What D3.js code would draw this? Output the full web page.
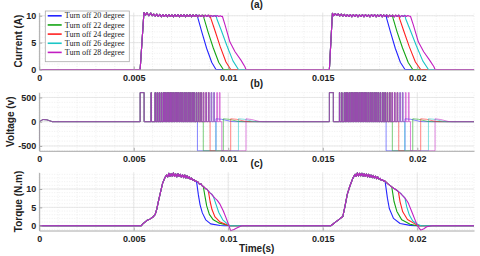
<!DOCTYPE html>
<html>
<head>
<meta charset="utf-8">
<script src="https://cdn.jsdelivr.net/npm/d3@7/dist/d3.min.js"></script>
<style>
  body { margin: 0; background: #fff; }
  svg { display: block; font-family: "Liberation Sans", Arial, sans-serif; }
</style>
</head>
<body>
<svg id="chart" width="480" height="256"></svg>
<script>
// ---------------- data ----------------
const seriesNames = ["Turn off 20 degree", "Turn off 22 degree", "Turn off 24 degree",
                     "Turn off 26 degree", "Turn off 28 degree"];
const xTicks = [0, 0.005, 0.01, 0.015, 0.02];
const xTickLabels = ["0", "0.005", "0.01", "0.015", "0.02"];

// current (A): common flat top of each stroke, then one tail per turn-off angle
const curTop1 = [[0.00534,0],[0.00554,10.6],[0.00562,10.1],[0.0057,10.55],[0.0058,10.0],[0.0059,10.5],
  [0.00598,10.0],[0.00606,10.3],[0.00614,9.9],[0.00622,10.3],[0.0063,9.85],[0.00638,10.25],[0.00646,9.8],
  [0.00654,10.2],[0.00662,9.85],[0.0067,10.2],[0.00678,9.8],[0.00686,10.2],[0.00694,9.85],[0.00702,10.15],
  [0.0071,9.8],[0.00718,10.2],[0.00726,9.85],[0.00734,10.2],[0.00742,9.8],[0.0075,10.15],[0.00758,9.85],
  [0.00766,10.2],[0.00774,9.8],[0.00782,10.15],[0.0079,9.85],[0.00798,10.2],[0.00806,9.8],[0.00814,10.15],
  [0.00822,9.85],[0.0083,10.15],[0.00838,9.8],[0.00846,10.1],[0.00854,9.85],[0.00862,10.1],[0.0087,9.8],
  [0.00878,10.1],[0.00886,9.85],[0.00894,10.1],[0.00902,9.8],[0.0091,10.05],[0.00918,9.85],[0.00926,10.05],
  [0.00934,9.85],[0.00942,10.05],[0.0095,9.85],[0.00958,10.0],[0.00964,9.85]];
const curTop2 = [[0.01535,0],[0.01551,10.45],[0.01558,10.0],[0.01566,10.4],[0.01574,10.05],[0.01582,10.35],
  [0.0159,9.95],[0.01598,10.3],[0.01606,9.9],[0.01614,10.25],[0.01622,9.85],[0.0163,10.2],[0.01638,9.85],
  [0.01646,10.2],[0.01654,9.8],[0.01662,10.2],[0.0167,9.85],[0.01678,10.2],[0.01686,9.8],[0.01694,10.15],
  [0.01702,9.85],[0.0171,10.2],[0.01718,9.8],[0.01726,10.2],[0.01734,9.85],[0.01742,10.15],[0.0175,9.8],
  [0.01758,10.2],[0.01766,9.85],[0.01774,10.2],[0.01782,9.8],[0.0179,10.15],[0.01798,9.85],[0.01806,10.2],
  [0.01814,9.8],[0.01822,10.15],[0.0183,9.85],[0.01838,10.15],[0.01846,9.8],[0.01854,10.1],[0.01862,9.85],
  [0.0187,10.1],[0.01878,9.8],[0.01886,10.1],[0.01894,9.85],[0.01902,10.1],[0.0191,9.8],[0.01918,10.05],
  [0.01926,9.85],[0.01934,10.05],[0.01942,9.85],[0.0195,10.05],[0.01958,9.9]];
const curTail1 = [
  [[0.00837,10.1],[0.0084,9.5],[0.0086,7.0],[0.00886,3.9],[0.00913,1.3],[0.00935,0]],
  [[0.00868,10.1],[0.00872,9.5],[0.00893,7.0],[0.00921,4.0],[0.0095,1.3],[0.00974,0]],
  [[0.00904,10.1],[0.00908,9.5],[0.0093,7.2],[0.00958,4.2],[0.00988,1.4],[0.01013,0]],
  [[0.00935,10.1],[0.0094,9.4],[0.00963,7.3],[0.00992,4.5],[0.01025,1.6],[0.01054,0]],
  [[0.00969,9.9],[0.00983,8.3],[0.01009,5.1],[0.01036,3.3],[0.01068,1.7],[0.01088,0.5],[0.01094,0]]];
const curTail2 = [
  [[0.01835,10.1],[0.01838,9.5],[0.01858,7.0],[0.01884,3.9],[0.01911,1.3],[0.01935,0]],
  [[0.01868,10.1],[0.01872,9.5],[0.01893,7.0],[0.01922,4.0],[0.01952,1.3],[0.01976,0]],
  [[0.01902,10.1],[0.01906,9.5],[0.01928,7.2],[0.01958,4.2],[0.0199,1.4],[0.02018,0]],
  [[0.01934,10.1],[0.01939,9.4],[0.01963,7.3],[0.01994,4.5],[0.02029,1.6],[0.02059,0]],
  [[0.01964,9.9],[0.01979,8.3],[0.02006,5.1],[0.02034,3.3],[0.02066,1.7],[0.02088,0.5],[0.02094,0]]];

// phase voltage (V): chopping pulses, turn-off and return instants
const busVolt = 600;
const voltStart = [[0,-560],[0,0],[0.0002,45],[0.0004,40],[0.0007,0]];
const pulseOn1 = [0.00534,0.005915,0.006127,0.006233,0.006339,0.006444,0.00655,0.00662,0.00669,0.00678,
  0.00685,0.00694,0.00701,0.0071,0.00719,0.00727,0.00736,0.00745,0.00754,0.00765,0.00775,0.00786,0.00796,
  0.00807,0.00817,0.0083,0.00842,0.00854,0.00867,0.00881,0.00895,0.00909,0.00923,0.00939,0.00953];
const pulseOff1 = [0.00555,0.005935,0.006147,0.006255,0.006362,0.006468,0.006575,0.006648,0.00672,0.00681,
  0.00688,0.00697,0.00704,0.00714,0.00723,0.00731,0.0074,0.00749,0.00758,0.00769,0.00779,0.0079,0.008,
  0.00811,0.00821,0.00834,0.00846,0.00858,0.00871,0.00885,0.00899,0.00913,0.00927,0.00943,0.00957];
const pulseOn2 = [0.01535,0.01588,0.016,0.01613,0.01622,0.0163,0.01639,0.01648,0.01657,0.01666,0.01674,
  0.01683,0.01692,0.01701,0.0171,0.01719,0.01727,0.01738,0.01749,0.01759,0.0177,0.0178,0.01791,0.01803,
  0.01816,0.01828,0.0184,0.01853,0.01865,0.01879,0.01893,0.01907,0.01921,0.01937,0.01953];
const pulseOff2 = [0.01556,0.0159,0.01602,0.01616,0.01625,0.01633,0.01642,0.01652,0.01661,0.0167,0.01678,
  0.01687,0.01696,0.01705,0.01714,0.01723,0.01731,0.01742,0.01753,0.01763,0.01774,0.01784,0.01795,0.01807,
  0.0182,0.01832,0.01844,0.01857,0.01869,0.01883,0.01897,0.01911,0.01925,0.01941,0.01957];
const offTime1 = [0.00837, 0.00868, 0.00904, 0.00935, 0.00966];
const retTime1 = [0.00935, 0.00974, 0.01013, 0.01054, 0.01094];
const offTime2 = [0.01835, 0.01868, 0.01902, 0.01934, 0.01964];
const retTime2 = [0.01935, 0.01976, 0.02018, 0.02059, 0.02094];
const voltBump1 = [
  [[0.00935,60],[0.00965,50],[0.01015,5],[0.01035,0]],
  [[0.00974,60],[0.01004,50],[0.01054,5],[0.01074,0]],
  [[0.01013,60],[0.01043,50],[0.01093,5],[0.01113,0]],
  [[0.01054,60],[0.01084,50],[0.01134,5],[0.01154,0]],
  [[0.01094,60],[0.01124,45],[0.01164,5],[0.01184,0]]];
const voltBump2 = [
  [[0.01935,60],[0.01965,50],[0.02015,5],[0.02035,0]],
  [[0.01976,60],[0.02006,50],[0.02056,5],[0.02076,0]],
  [[0.02018,60],[0.02048,50],[0.02098,5],[0.02118,0]],
  [[0.02059,60],[0.02089,50],[0.02139,5],[0.02159,0]],
  [[0.02094,60],[0.02124,45],[0.02164,5],[0.02184,0]]];

// torque (N.m)
const torTop1 = [[0.0054,0],[0.00548,0.5],[0.00569,1.4],[0.00585,1.8],[0.006,2.3],[0.00613,3.0],[0.00622,4.5],
  [0.0063,6.5],[0.00643,9.4],[0.00653,11.6],[0.00666,13.2],[0.00674,13.8],[0.0068,13.3],[0.00686,14.3],
  [0.00692,13.4],[0.00698,14.2],[0.00704,13.5],[0.0071,14.4],[0.00716,13.4],[0.00722,14.1],[0.00728,13.3],
  [0.00734,14.2],[0.0074,13.4],[0.00746,14.0],[0.00752,13.2],[0.00758,13.9],[0.00764,13.1],[0.0077,13.8],
  [0.00776,13.0],[0.00782,13.6],[0.00788,12.9],[0.00794,13.3],[0.008,12.6],[0.00806,13.0],[0.00812,12.4],
  [0.00818,12.6],[0.00824,12.1],[0.00828,12.2],[0.0084,11.9],[0.00848,11.3],[0.00856,11.4],[0.00862,10.9],
  [0.00868,10.7],[0.0088,10.1],[0.00886,10.0],[0.00895,9.4],[0.00905,8.9],[0.00912,8.6],[0.00921,8.0],
  [0.00932,7.4]];
const torTop2 = [[0.01542,0],[0.01553,0.4],[0.01565,0.9],[0.01578,1.4],[0.01588,1.8],[0.01606,2.5],
  [0.01618,5.4],[0.0163,8.6],[0.01644,10.9],[0.01659,12.9],[0.01671,14.0],[0.01677,13.4],[0.01683,14.4],
  [0.01689,13.5],[0.01695,14.3],[0.01701,13.6],[0.01707,14.3],[0.01713,13.5],[0.01719,14.2],[0.01725,13.4],
  [0.01731,14.1],[0.01737,13.3],[0.01743,14.0],[0.01749,13.2],[0.01755,13.8],[0.01761,13.1],[0.01767,13.7],
  [0.01773,13.0],[0.01779,13.5],[0.01785,12.8],[0.01791,13.3],[0.01797,12.7],[0.01803,12.9],[0.01809,12.4],
  [0.01815,12.6],[0.01821,12.2],[0.01826,12.3],[0.01836,11.8],[0.01845,11.4],[0.01855,11.0],[0.01865,10.6],
  [0.01875,10.2],[0.01888,9.8],[0.019,9.3],[0.01912,8.8],[0.01924,8.1],[0.01935,7.5],[0.01945,6.8]];
const torTail1 = [
  [[0.00833,11.8],[0.00842,8.4],[0.00851,5.7],[0.00863,3.5],[0.00881,1.6],[0.00907,0.5],[0.00957,0.05],[0.0098,0]],
  [[0.00868,10.7],[0.00877,8.0],[0.00886,5.4],[0.009,3.1],[0.00921,1.6],[0.00953,0.7],[0.00992,0.2],[0.0101,0]],
  [[0.00895,9.4],[0.00904,6.6],[0.00914,4.4],[0.0093,2.4],[0.00957,1.0],[0.00995,0.2],[0.0101,0]],
  [[0.00921,8.0],[0.00935,5.9],[0.0095,3.6],[0.00971,1.6],[0.00995,0.5],[0.0101,0]],
  [[0.00942,6.9],[0.00957,5.8],[0.00974,4.0],[0.00988,2.2],[0.01001,0.4],[0.01013,-1.4],[0.0103,-1.0],[0.01045,-0.6],[0.01071,0]]];
const torTail2 = [
  [[0.0183,12.0],[0.01842,7.5],[0.01852,4.7],[0.01874,2.0],[0.01909,0.6],[0.01962,0.1],[0.0199,0]],
  [[0.01865,10.6],[0.01877,6.6],[0.01892,3.9],[0.01918,1.6],[0.01962,0.4],[0.02,0]],
  [[0.019,9.3],[0.01909,6.5],[0.01923,3.8],[0.01948,1.7],[0.01988,0.5],[0.0201,0]],
  [[0.01935,7.5],[0.01944,5.2],[0.01958,2.9],[0.01976,1.3],[0.02001,0.4],[0.0202,0]],
  [[0.01953,6.1],[0.01971,3.8],[0.01988,1.6],[0.02001,0],[0.02018,-1.2],[0.02035,-0.8],[0.0205,-0.3],[0.02077,0]]];

const tEnd = 0.023;

// ---------------- styling ----------------
const colors = ["#2424ff", "#14a514", "#ff2222", "#1cc6c6", "#c21ec2"];

// ---------------- build series ----------------
function branch(top, tail) {
  return top.filter(p => p[0] < tail[0][0]).concat(tail);
}
function voltCycle(on, off, tOff, tRet, bump) {
  const pts = [];
  on.forEach((t, i) => {
    if (off[i] < tOff) pts.push([t, 0], [t, busVolt], [off[i], busVolt], [off[i], 0]);
  });
  pts.push([tOff, 0], [tOff, -busVolt], [tRet, -busVolt], [tRet, 0]);
  return pts.concat(bump);
}
const currentData = seriesNames.map((n, k) =>
  [[0, 0]].concat(branch(curTop1, curTail1[k]), branch(curTop2, curTail2[k]), [[tEnd, 0]]));
const torqueData = seriesNames.map((n, k) =>
  [[0, 0]].concat(branch(torTop1, torTail1[k]), branch(torTop2, torTail2[k]), [[tEnd, 0]]));
const voltData = seriesNames.map((n, k) =>
  voltStart.concat(voltCycle(pulseOn1, pulseOff1, offTime1[k], retTime1[k], voltBump1[k]),
                   voltCycle(pulseOn2, pulseOff2, offTime2[k], retTime2[k], voltBump2[k]),
                   [[tEnd, 0]]));

// ---------------- chart ----------------
const svg = d3.select("#chart");
const x = d3.scaleLinear().domain([0, tEnd]).range([39.2, 474]);

const panels = [
  {id: "a", data: currentData, y: d3.scaleLinear().domain([0, 10.6]).range([69.5, 12.5]),
   ticks: [0, 5, 10], minor: 1, title: "(a)", titleY: 8, label: "Current (A)", labelX: 22, lw: 1.1, op: 1},
  {id: "b", data: voltData, y: d3.scaleLinear().domain([-600, 600]).range([150.8, 92.6]),
   ticks: [-500, 0, 500], minor: 100, title: "(b)", titleY: 87, label: "Voltage (v)", labelX: 14, lw: 0.7, op: 0.8},
  {id: "c", data: torqueData, y: d3.scaleLinear().domain([-1.3, 14.5]).range([230.5, 172.5]),
   ticks: [0, 5, 10], minor: 1, title: "(c)", titleY: 166.5, label: "Torque (N.m)", labelX: 22, lw: 1.1, op: 1}
];

panels.forEach(p => {
  const y = p.y;
  const [y0, y1] = y.range();
  const g = svg.append("g").attr("class", "panel panel-" + p.id);

  // minor grid
  const minorX = d3.range(0, tEnd + 1e-9, 0.001);
  g.append("g").selectAll("line").data(minorX).join("line")
    .attr("x1", d => x(d)).attr("x2", d => x(d))
    .attr("y1", y0).attr("y2", y1)
    .attr("stroke", "#e4e4e4").attr("stroke-width", 0.6).attr("stroke-dasharray", "1,1.5");
  const dom = y.domain();
  const minorY = d3.range(Math.ceil(dom[0] / p.minor) * p.minor, dom[1] + 1e-9, p.minor);
  g.append("g").selectAll("line").data(minorY).join("line")
    .attr("x1", x(0)).attr("x2", x(tEnd))
    .attr("y1", d => y(d)).attr("y2", d => y(d))
    .attr("stroke", "#e4e4e4").attr("stroke-width", 0.6).attr("stroke-dasharray", "1,1.5");
  // major grid
  g.append("g").selectAll("line").data(xTicks).join("line")
    .attr("x1", d => x(d)).attr("x2", d => x(d)).attr("y1", y0).attr("y2", y1)
    .attr("stroke", "#dadada").attr("stroke-width", 0.6);
  g.append("g").selectAll("line").data(p.ticks).join("line")
    .attr("x1", x(0)).attr("x2", x(tEnd)).attr("y1", d => y(d)).attr("y2", d => y(d))
    .attr("stroke", "#dadada").attr("stroke-width", 0.6);

  // clip
  svg.append("defs").append("clipPath").attr("id", "clip-" + p.id)
    .append("rect").attr("x", x(0)).attr("y", y1 - 1)
    .attr("width", x(tEnd) - x(0) + 1).attr("height", y0 - y1 + 2);

  const line = d3.line().x(d => x(d[0])).y(d => y(d[1]));
  g.append("g").attr("clip-path", "url(#clip-" + p.id + ")")
    .selectAll("path").data(p.data).join("path")
    .attr("d", line)
    .attr("fill", "none")
    .attr("stroke", (d, i) => colors[i])
    .attr("stroke-width", p.lw)
    .attr("stroke-opacity", p.op)
    .attr("stroke-linejoin", "round");

  // axes
  const xAxis = d3.axisBottom(x).tickValues(xTicks)
    .tickFormat((d, i) => xTickLabels[i]).tickSize(-3).tickSizeOuter(0).tickPadding(5);
  const yAxis = d3.axisLeft(y).tickValues(p.ticks)
    .tickFormat(d => String(d)).tickSize(-3).tickSizeOuter(0).tickPadding(3);
  const gx = g.append("g").attr("transform", "translate(0," + y0 + ")").call(xAxis);
  const gy = g.append("g").attr("transform", "translate(" + x(0) + ",0)").call(yAxis);
  [gx, gy].forEach(a => {
    a.select(".domain").attr("stroke", "#a8a8a8");
    a.selectAll(".tick line").attr("stroke", "#a8a8a8");
    a.selectAll(".tick text").attr("fill", "#222").style("font-size", "9px").style("font-weight", "bold")
      .style("font-family", "'Liberation Sans', Arial, sans-serif");
  });

  // title and y label
  svg.append("text").attr("x", 256.7).attr("y", p.titleY)
    .attr("text-anchor", "middle").attr("fill", "#222")
    .style("font-size", "10px").style("font-weight", "bold").text(p.title);
  svg.append("text")
    .attr("transform", "translate(" + p.labelX + "," + ((y0 + y1) / 2) + ") rotate(-90)")
    .attr("text-anchor", "middle").attr("fill", "#222")
    .style("font-size", "10px").style("font-weight", "bold").text(p.label);
});

// x axis title
svg.append("text").attr("x", 256.7).attr("y", 251.5)
  .attr("text-anchor", "middle").attr("fill", "#222")
  .style("font-size", "10px").style("font-weight", "bold").text("Time(s)");

// legend
const legend = svg.append("g").attr("class", "legend");
legend.append("rect").attr("x", 45.3).attr("y", 11).attr("width", 84).attr("height", 50.7)
  .attr("fill", "#fff").attr("stroke", "#aaa").attr("stroke-width", 0.8);
const items = legend.selectAll("g.item").data(seriesNames).join("g")
  .attr("class", "item")
  .attr("transform", (d, i) => "translate(0," + (15.8 + i * 9.15) + ")");
items.append("line").attr("x1", 47.7).attr("x2", 61.7).attr("y1", 0).attr("y2", 0)
  .attr("stroke", (d, i) => colors[i]).attr("stroke-width", 1.6);
items.append("text").attr("x", 64.8).attr("dy", "0.33em")
  .style("font-family", "'Liberation Serif', 'Times New Roman', serif")
  .style("font-size", "8px").attr("fill", "#222").text(d => d);
</script>
</body>
</html>
